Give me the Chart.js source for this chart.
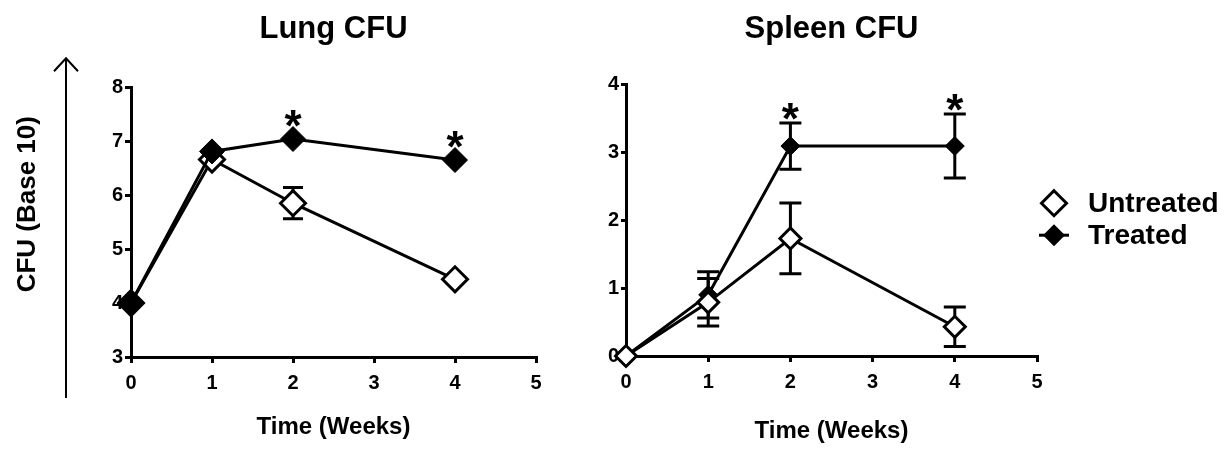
<!DOCTYPE html>
<html>
<head>
<meta charset="utf-8">
<script src="https://cdn.jsdelivr.net/npm/chart.js@4.4.1/dist/chart.umd.min.js"></script>
<style>
    html, body { margin: 0; padding: 0; background: #fff; }
    body { width: 1229px; height: 449px; position: relative; overflow: hidden; }
    .panel { position: absolute; top: 0; height: 449px; }
    #lungWrap { left: 0; width: 580px; }
    #spleenWrap { left: 500px; width: 729px; }
</style>
</head>
<body>
<div class="panel" id="lungWrap"><canvas id="lungChart"></canvas></div>
<div class="panel" id="spleenWrap"><canvas id="spleenChart"></canvas></div>

<script>
// ---- Data ----
const weeks = [0, 1, 2, 4];
const seriesNames = ['Untreated', 'Treated'];
const xTickValues = [0, 1, 2, 3, 4, 5];

const lungYTicks = [3, 4, 5, 6, 7, 8];
const lungUntreated = [4.0, 6.66, 5.85, 4.44];
const lungUntreatedErr = [0, 0, 0.29, 0];
const lungTreated = [4.0, 6.81, 7.04, 6.65];
const lungTreatedErr = [0, 0, 0, 0];

const spleenYTicks = [0, 1, 2, 3, 4];
const spleenUntreated = [0, 0.79, 1.73, 0.43];
const spleenUntreatedErr = [0, 0.35, 0.52, 0.29];
const spleenTreated = [0, 0.90, 3.09, 3.09];
const spleenTreatedErr = [0, 0.34, 0.34, 0.47];

// asterisks above the treated series
const treatedSignificant = [false, false, true, true];

const FONT = "'Liberation Sans', Arial, sans-serif";

function toPoints(values) {
    return weeks.map((w, i) => ({ x: w, y: values[i] }));
}

function diamond(ctx, x, y, r) {
    ctx.beginPath();
    ctx.moveTo(x, y - r);
    ctx.lineTo(x + r, y);
    ctx.lineTo(x, y + r);
    ctx.lineTo(x - r, y);
    ctx.closePath();
}

// Error bars, drawn under the lines and markers
const errorBars = {
    id: 'errorBars',
    beforeDatasetsDraw(chart, args, opts) {
        const { ctx, scales: { x, y } } = chart;
        ctx.save();
        ctx.strokeStyle = '#000';
        ctx.lineWidth = 3;
        chart.data.datasets.forEach(ds => {
            if (!ds.errors) return;
            ds.data.forEach((p, j) => {
                const e = ds.errors[j];
                if (!e) return;
                const px = x.getPixelForValue(p.x);
                const top = y.getPixelForValue(p.y + e);
                const bot = y.getPixelForValue(p.y - e);
                ctx.beginPath();
                ctx.moveTo(px, top); ctx.lineTo(px, bot);
                ctx.moveTo(px - opts.cap, top); ctx.lineTo(px + opts.cap, top);
                ctx.moveTo(px - opts.cap, bot); ctx.lineTo(px + opts.cap, bot);
                ctx.stroke();
            });
        });
        ctx.restore();
    }
};

// "*" marks above significant treated points
const asterisks = {
    id: 'asterisks',
    afterDatasetsDraw(chart, args, opts) {
        const { ctx, scales: { x, y } } = chart;
        const ds = chart.data.datasets.find(d => d.label === 'Treated');
        ctx.save();
        ctx.fillStyle = '#000';
        ctx.font = 'bold 44px ' + FONT;
        ctx.textAlign = 'center';
        ctx.textBaseline = 'alphabetic';
        ds.data.forEach((p, j) => {
            if (!treatedSignificant[j]) return;
            const px = x.getPixelForValue(p.x);
            const markTop = y.getPixelForValue(p.y) - ds.pointRadius;
            const errTop = y.getPixelForValue(p.y + (ds.errors[j] || 0));
            const top = Math.min(markTop, errTop);
            ctx.fillText('*', px, top - opts.gap + 27);
        });
        ctx.restore();
    }
};

// Shared y axis label with the long arrow on the far left
const sideLabel = {
    id: 'sideLabel',
    afterDraw(chart) {
        const { ctx, chartArea } = chart;
        const ax = chartArea.left - 65;
        const yTop = chartArea.top - 29;
        const yBot = chartArea.bottom + 41;
        ctx.save();
        ctx.strokeStyle = '#000';
        ctx.lineWidth = 2;
        ctx.beginPath();
        ctx.moveTo(ax, yBot); ctx.lineTo(ax, yTop);
        ctx.moveTo(ax - 12, yTop + 13); ctx.lineTo(ax, yTop); ctx.lineTo(ax + 12, yTop + 13);
        ctx.stroke();

        ctx.translate(chartArea.left - 103, chartArea.top + 117);
        ctx.rotate(-Math.PI / 2);
        ctx.fillStyle = '#000';
        ctx.font = 'bold 26px ' + FONT;
        ctx.textAlign = 'center';
        ctx.textBaseline = 'middle';
        ctx.fillText('CFU (Base 10)', 0, 0);
        ctx.restore();
    }
};

// Legend to the right of the spleen panel
const sideLegend = {
    id: 'sideLegend',
    afterDraw(chart) {
        const { ctx, chartArea } = chart;
        const mx = chartArea.right + 17;
        const tx = chartArea.right + 51;
        ctx.save();
        ctx.font = 'bold 28px ' + FONT;
        ctx.textBaseline = 'middle';
        seriesNames.forEach((name, i) => {
            const cy = chartArea.top + 119 + i * 32;
            ctx.strokeStyle = '#000';
            ctx.fillStyle = '#000';
            if (name === 'Treated') {
                ctx.lineWidth = 3;
                ctx.beginPath();
                ctx.moveTo(mx - 15, cy); ctx.lineTo(mx + 15, cy);
                ctx.stroke();
                diamond(ctx, mx, cy, 11);
                ctx.fill();
            } else {
                ctx.lineWidth = 3;
                diamond(ctx, mx, cy, 12.5);
                ctx.fillStyle = '#fff';
                ctx.fill();
                ctx.stroke();
            }
            ctx.fillStyle = '#000';
            ctx.fillText(name, tx, cy + 1);
        });
        ctx.restore();
    }
};

function makeChart(canvasId, cfg) {
    const ctx = document.getElementById(canvasId).getContext('2d');
    return new Chart(ctx, {
        type: 'line',
        data: {
            datasets: [{
                label: 'Untreated',
                data: toPoints(cfg.untreated),
                errors: cfg.untreatedErr,
                order: cfg.untreatedOrder,
                borderColor: '#000',
                borderWidth: 3,
                pointStyle: 'rectRot',
                pointRadius: cfg.untreatedRadius,
                pointBackgroundColor: '#fff',
                pointBorderColor: '#000',
                pointBorderWidth: 3,
                tension: 0,
                clip: false
            }, {
                label: 'Treated',
                data: toPoints(cfg.treated),
                errors: cfg.treatedErr,
                order: cfg.treatedOrder,
                borderColor: '#000',
                borderWidth: 3,
                pointStyle: 'rectRot',
                pointRadius: cfg.treatedRadius,
                pointBackgroundColor: '#000',
                pointBorderColor: '#000',
                pointBorderWidth: 1,
                tension: 0,
                clip: false
            }]
        },
        options: {
            responsive: true,
            maintainAspectRatio: false,
            animation: false,
            events: [],
            layout: { padding: { left: 0, right: cfg.padRight, top: 0, bottom: 0 } },
            plugins: {
                legend: { display: false },
                tooltip: { enabled: false },
                title: {
                    display: true,
                    text: cfg.title,
                    fullSize: false,
                    color: '#000',
                    font: { family: FONT, size: 31, weight: 'bold' },
                    padding: { top: 11, bottom: cfg.titleGap }
                },
                errorBars: { cap: cfg.cap },
                asterisks: { gap: cfg.starGap }
            },
            scales: {
                x: {
                    type: 'linear',
                    min: xTickValues[0],
                    max: xTickValues[xTickValues.length - 1],
                    afterBuildTicks: s => { s.ticks = xTickValues.map(v => ({ value: v })); },
                    afterFit: s => { s.height = cfg.xHeight; },
                    border: { display: true, color: '#000', width: 3 },
                    grid: { display: true, drawOnChartArea: false, drawTicks: true, tickLength: 6, color: '#000', lineWidth: 3 },
                    ticks: { color: '#000', padding: 8, font: { family: FONT, size: 20, weight: 'bold' } },
                    title: {
                        display: true,
                        text: 'Time (Weeks)',
                        color: '#000',
                        font: { family: FONT, size: 24, weight: 'bold' },
                        padding: { top: 0, bottom: cfg.xTitlePad }
                    }
                },
                y: {
                    type: 'linear',
                    min: cfg.yTicks[0],
                    max: cfg.yTicks[cfg.yTicks.length - 1],
                    afterBuildTicks: s => { s.ticks = cfg.yTicks.map(v => ({ value: v })); },
                    afterFit: s => { s.width = cfg.yWidth; },
                    border: { display: true, color: '#000', width: 3 },
                    grid: { display: true, drawOnChartArea: false, drawTicks: true, tickLength: cfg.yTickLen, color: '#000', lineWidth: 3 },
                    ticks: { color: '#000', padding: 2, font: { family: FONT, size: 20, weight: 'bold' } }
                }
            }
        },
        plugins: cfg.extraPlugins
    });
}

makeChart('lungChart', {
    title: 'Lung CFU',
    untreated: lungUntreated, untreatedErr: lungUntreatedErr,
    treated: lungTreated, treatedErr: lungTreatedErr,
    untreatedOrder: 1, treatedOrder: 0,
    untreatedRadius: 12.5, treatedRadius: 12.5,
    yTicks: lungYTicks,
    padRight: 44, yWidth: 131, xHeight: 92, yTickLen: 6,
    titleGap: 39, xTitlePad: 7, cap: 10, starGap: 13,
    extraPlugins: [errorBars, asterisks, sideLabel]
});

makeChart('spleenChart', {
    title: 'Spleen CFU',
    untreated: spleenUntreated, untreatedErr: spleenUntreatedErr,
    treated: spleenTreated, treatedErr: spleenTreatedErr,
    untreatedOrder: 0, treatedOrder: 1,
    untreatedRadius: 10.5, treatedRadius: 9.5,
    yTicks: spleenYTicks,
    padRight: 192, yWidth: 126, xHeight: 93, yTickLen: 5,
    titleGap: 36, xTitlePad: 3, cap: 11, starGap: 16,
    extraPlugins: [errorBars, asterisks, sideLegend]
});
</script>
</body>
</html>
